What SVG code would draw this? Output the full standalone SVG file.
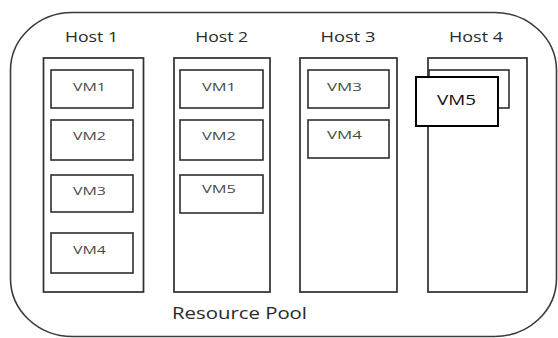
<svg xmlns="http://www.w3.org/2000/svg" width="558" height="338" viewBox="0 0 558 338">
<style>
.pool{fill:none;stroke:#3a3a3a;stroke-width:1.6}
.host{fill:#fff;stroke:#2e2e2e;stroke-width:1.7}
.vm{fill:#fff;stroke:#2e2e2e;stroke-width:1.6}
.vmf{fill:#fff;stroke:#000;stroke-width:2}
.hl{font-family:"Open Sans","DejaVu Sans",sans-serif;font-size:14px;fill:#2a2a2a;text-anchor:middle}
.vl{font-family:"Open Sans","DejaVu Sans",sans-serif;font-size:11px;fill:#4a4a4a;text-anchor:middle}
.vlf{font-family:"Open Sans","DejaVu Sans",sans-serif;font-size:15px;fill:#111;text-anchor:middle}
.pl{font-family:"Open Sans","DejaVu Sans",sans-serif;font-size:16px;fill:#2a2a2a;text-anchor:middle}
</style>
<rect width="558" height="338" fill="#fff"/>
<g id="pool">
<rect class="pool" x="10.5" y="12.5" width="546" height="324" rx="62" ry="58"/>
<text class="pl" x="239.5" y="319" textLength="135" lengthAdjust="spacingAndGlyphs">Resource Pool</text>
</g>
<g id="host1">
<text class="hl" x="91.5" y="42" textLength="53" lengthAdjust="spacingAndGlyphs">Host 1</text>
<rect class="host" x="43.5" y="58" width="100" height="234"/>
</g>
<g id="host1-vm1"><rect class="vm" x="51" y="70" width="82" height="38"/><text class="vl" x="89.5" y="91" textLength="33" lengthAdjust="spacingAndGlyphs">VM1</text></g>
<g id="host1-vm2"><rect class="vm" x="51" y="120" width="82" height="40"/><text class="vl" x="89.5" y="139.5" textLength="33" lengthAdjust="spacingAndGlyphs">VM2</text></g>
<g id="host1-vm3"><rect class="vm" x="51" y="175" width="82" height="37"/><text class="vl" x="89.5" y="195" textLength="33" lengthAdjust="spacingAndGlyphs">VM3</text></g>
<g id="host1-vm4"><rect class="vm" x="51" y="233" width="82" height="40"/><text class="vl" x="89.5" y="253.5" textLength="33" lengthAdjust="spacingAndGlyphs">VM4</text></g>
<g id="host2">
<text class="hl" x="221.7" y="42" textLength="53" lengthAdjust="spacingAndGlyphs">Host 2</text>
<rect class="host" x="174" y="58" width="96" height="234"/>
</g>
<g id="host2-vm1"><rect class="vm" x="180" y="70" width="83" height="38"/><text class="vl" x="219" y="91" textLength="34" lengthAdjust="spacingAndGlyphs">VM1</text></g>
<g id="host2-vm2"><rect class="vm" x="180" y="120" width="83" height="40"/><text class="vl" x="219" y="139.5" textLength="34" lengthAdjust="spacingAndGlyphs">VM2</text></g>
<g id="host2-vm5"><rect class="vm" x="180" y="175" width="83" height="38"/><text class="vl" x="219" y="193" textLength="34" lengthAdjust="spacingAndGlyphs">VM5</text></g>
<g id="host3">
<text class="hl" x="348" y="42" textLength="55" lengthAdjust="spacingAndGlyphs">Host 3</text>
<rect class="host" x="300" y="58" width="97" height="234"/>
</g>
<g id="host3-vm3"><rect class="vm" x="308" y="70" width="81" height="38"/><text class="vl" x="344.5" y="91" textLength="35" lengthAdjust="spacingAndGlyphs">VM3</text></g>
<g id="host3-vm4"><rect class="vm" x="308" y="120" width="81" height="38"/><text class="vl" x="344.5" y="138.5" textLength="35" lengthAdjust="spacingAndGlyphs">VM4</text></g>
<g id="host4">
<text class="hl" x="476" y="42" textLength="54" lengthAdjust="spacingAndGlyphs">Host 4</text>
<rect class="host" x="428" y="58" width="99" height="234"/>
</g>
<g id="host4-vm5-back"><rect class="vm" x="429" y="70" width="80" height="38"/></g>
<g id="host4-vm5"><rect class="vmf" x="416" y="77" width="82" height="49"/><text class="vlf" x="456.5" y="105" textLength="39" lengthAdjust="spacingAndGlyphs">VM5</text></g>
<g id="connectors"/>
</svg>
